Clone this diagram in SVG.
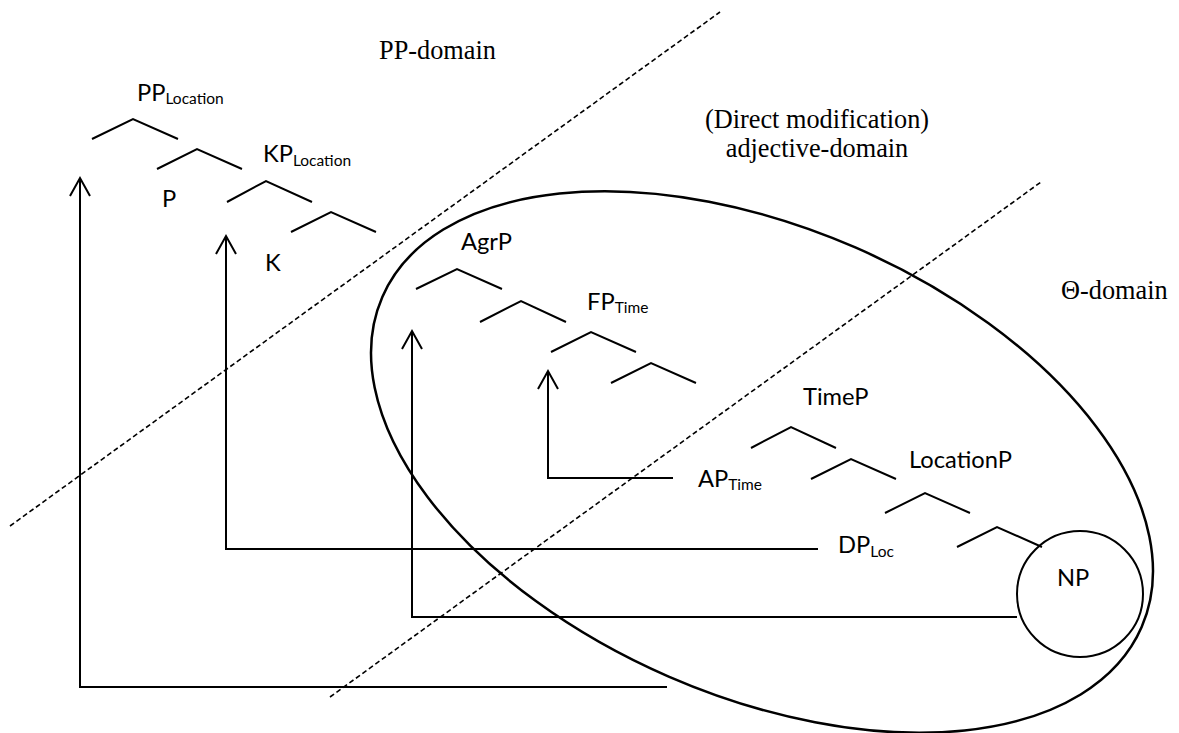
<svg xmlns="http://www.w3.org/2000/svg" width="1179" height="733" viewBox="0 0 1179 733">
<defs>
<style>
.bg{fill:#fff}
.ln{fill:none;stroke:#000;stroke-width:2}
.ds{fill:none;stroke:#000;stroke-width:1.6;stroke-dasharray:5 3}
.el{fill:none;stroke:#000;stroke-width:2.5}
.lb{font-family:Lato,"Liberation Sans",sans-serif;font-size:23.7px;fill:#000}
.sb{font-size:15.5px}
.sr{font-family:"Liberation Serif","Times New Roman",serif;font-size:26.3px;fill:#000}
</style>
<marker id="ah" viewBox="-20 -12 22 24" markerWidth="22" markerHeight="24" refX="0" refY="0" orient="auto" markerUnits="userSpaceOnUse" overflow="visible">
<path d="M-18,-10 L0,0 L-18,10" fill="none" stroke="#000" stroke-width="2"/>
</marker>
</defs>
<rect class="bg" x="0" y="0" width="1179" height="733"/>

<g id="domains">
<line class="ds" x1="10" y1="526" x2="720" y2="12"/>
<line class="ds" x1="330" y1="697" x2="1041" y2="182"/>
<text class="sr" x="379" y="59">PP-domain</text>
<text class="sr" x="817" y="128" text-anchor="middle">(Direct modification)</text>
<text class="sr" x="817" y="157" text-anchor="middle">adjective-domain</text>
<text class="sr" x="1061" y="299">Θ-domain</text>
</g>

<g id="theta-ellipse">
<ellipse class="el" cx="762" cy="462" rx="414" ry="234" transform="rotate(23.5 762 462)"/>
</g>

<g id="tree">
<polyline class="ln" points="92,139 133,119 178,139"/>
<polyline class="ln" points="157,169 197,149 242,169"/>
<polyline class="ln" points="227,202 266,181 312,202"/>
<polyline class="ln" points="291,232 331,212 376,232"/>
<polyline class="ln" points="416,289 457,269 502,289"/>
<polyline class="ln" points="480,322 521,301 566,322"/>
<polyline class="ln" points="551,352 591,332 636,352"/>
<polyline class="ln" points="611,383 651,363 696,383"/>
<polyline class="ln" points="751,448 791,427 836,448"/>
<polyline class="ln" points="811,479 851,459 896,479"/>
<polyline class="ln" points="885,513 925,493 970,513"/>
<polyline class="ln" points="957,547 997,527 1042,547"/>
</g>

<g id="labels">
<text class="lb" x="137" y="101">PP<tspan class="sb" dy="3">Location</tspan></text>
<text class="lb" x="263" y="162">KP<tspan class="sb" dy="3.5">Location</tspan></text>
<text class="lb" x="162" y="207">P</text>
<text class="lb" x="265" y="271">K</text>
<text class="lb" x="461" y="250">AgrP</text>
<text class="lb" x="587" y="310">FP<tspan class="sb" dy="3">Time</tspan></text>
<text class="lb" x="803" y="405">TimeP</text>
<text class="lb" x="909" y="468">LocationP</text>
<text class="lb" x="698" y="487">AP<tspan class="sb" dy="3">Time</tspan></text>
<text class="lb" x="838" y="553">DP<tspan class="sb" dy="3.5">Loc</tspan></text>
</g>

<g id="np">
<circle class="ln" cx="1080" cy="594" r="63"/>
<text class="lb" x="1057" y="586">NP</text>
</g>

<g id="connectors">
<path class="ln" d="M667,687 H80 V178" marker-end="url(#ah)"/>
<path class="ln" d="M818,549 H226 V236" marker-end="url(#ah)"/>
<path class="ln" d="M1017,617 H412 V331" marker-end="url(#ah)"/>
<path class="ln" d="M673,478 H548 V371" marker-end="url(#ah)"/>
</g>
</svg>
